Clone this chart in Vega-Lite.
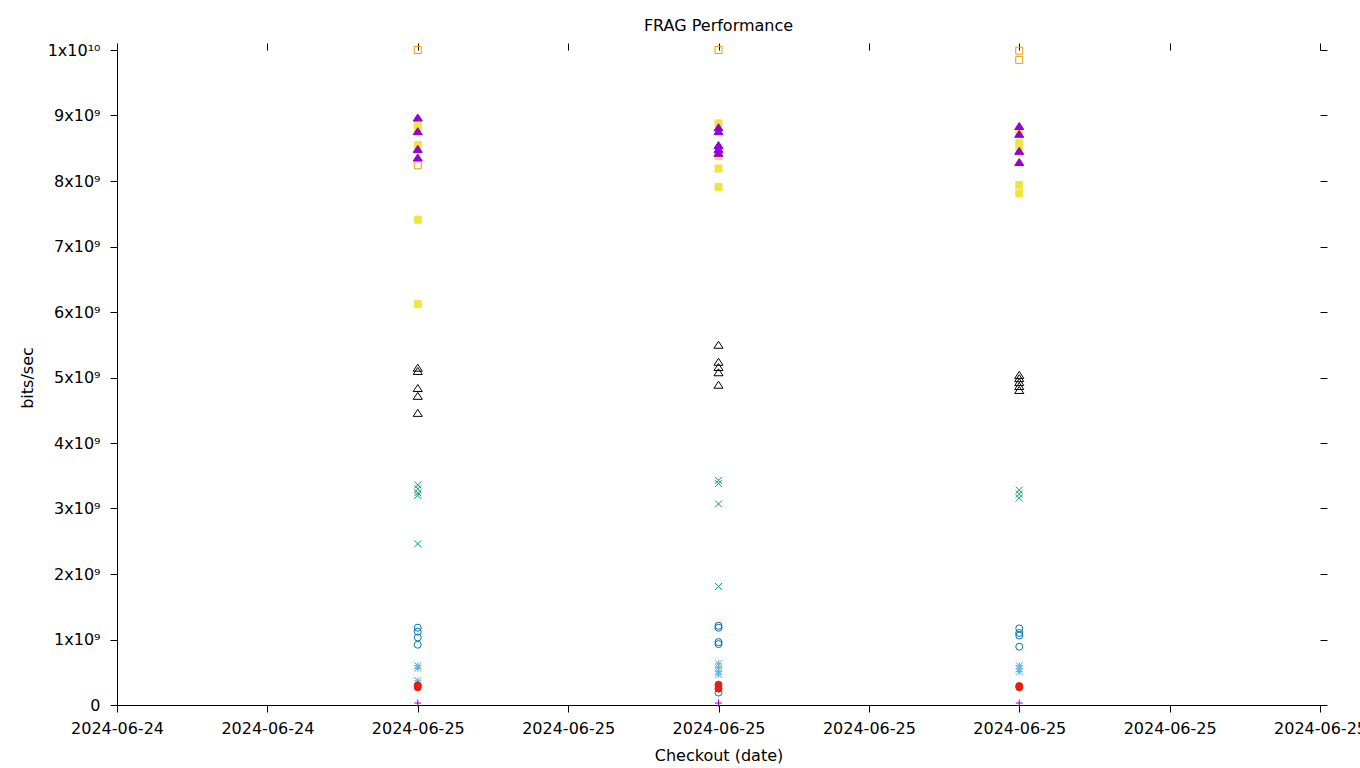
{
  "$schema": "https://vega.github.io/schema/vega-lite/v6.json",
  "autosize": {"type": "none"},
  "padding": {"left": 117, "top": 50, "right": 40, "bottom": 63},
  "width": 1203,
  "height": 655,
  "background": "white",
  "title": {"text": "FRAG Performance", "font": "DejaVu Sans", "fontSize": 16, "fontWeight": "normal", "color": "black", "anchor": "middle", "offset": 8},
  "config": {
    "view": {"stroke": null},
    "axis": {"grid": false, "domainColor": "black", "tickColor": "black", "labelColor": "black", "titleColor": "black", "labelFont": "DejaVu Sans", "titleFont": "DejaVu Sans", "labelFontSize": 16, "titleFontSize": 16, "titleFontWeight": "normal", "tickSize": 7}
  },
  "data": {"values": [
    {"series": "series 1", "checkout": "2024-06-25T00:00:00Z", "bps": 30000000},
    {"series": "series 1", "checkout": "2024-06-25T04:00:00Z", "bps": 30000000},
    {"series": "series 1", "checkout": "2024-06-25T08:00:00Z", "bps": 30000000},
    {"series": "series 2", "checkout": "2024-06-25T00:00:00Z", "bps": 3360000000},
    {"series": "series 2", "checkout": "2024-06-25T00:00:00Z", "bps": 3300000000},
    {"series": "series 2", "checkout": "2024-06-25T00:00:00Z", "bps": 3240000000},
    {"series": "series 2", "checkout": "2024-06-25T00:00:00Z", "bps": 3200000000},
    {"series": "series 2", "checkout": "2024-06-25T00:00:00Z", "bps": 2460000000},
    {"series": "series 2", "checkout": "2024-06-25T04:00:00Z", "bps": 3430000000},
    {"series": "series 2", "checkout": "2024-06-25T04:00:00Z", "bps": 3380000000},
    {"series": "series 2", "checkout": "2024-06-25T04:00:00Z", "bps": 3070000000},
    {"series": "series 2", "checkout": "2024-06-25T04:00:00Z", "bps": 1810000000},
    {"series": "series 2", "checkout": "2024-06-25T08:00:00Z", "bps": 3280000000},
    {"series": "series 2", "checkout": "2024-06-25T08:00:00Z", "bps": 3220000000},
    {"series": "series 2", "checkout": "2024-06-25T08:00:00Z", "bps": 3160000000},
    {"series": "series 3", "checkout": "2024-06-25T00:00:00Z", "bps": 600000000},
    {"series": "series 3", "checkout": "2024-06-25T00:00:00Z", "bps": 560000000},
    {"series": "series 3", "checkout": "2024-06-25T00:00:00Z", "bps": 370000000},
    {"series": "series 3", "checkout": "2024-06-25T04:00:00Z", "bps": 630000000},
    {"series": "series 3", "checkout": "2024-06-25T04:00:00Z", "bps": 570000000},
    {"series": "series 3", "checkout": "2024-06-25T04:00:00Z", "bps": 510000000},
    {"series": "series 3", "checkout": "2024-06-25T04:00:00Z", "bps": 470000000},
    {"series": "series 3", "checkout": "2024-06-25T08:00:00Z", "bps": 600000000},
    {"series": "series 3", "checkout": "2024-06-25T08:00:00Z", "bps": 550000000},
    {"series": "series 3", "checkout": "2024-06-25T08:00:00Z", "bps": 510000000},
    {"series": "series 4", "checkout": "2024-06-25T00:00:00Z", "bps": 10000000000},
    {"series": "series 4", "checkout": "2024-06-25T00:00:00Z", "bps": 8240000000},
    {"series": "series 4", "checkout": "2024-06-25T04:00:00Z", "bps": 10000000000},
    {"series": "series 4", "checkout": "2024-06-25T08:00:00Z", "bps": 9990000000},
    {"series": "series 4", "checkout": "2024-06-25T08:00:00Z", "bps": 9850000000},
    {"series": "series 5", "checkout": "2024-06-25T00:00:00Z", "bps": 8870000000},
    {"series": "series 5", "checkout": "2024-06-25T00:00:00Z", "bps": 8810000000},
    {"series": "series 5", "checkout": "2024-06-25T00:00:00Z", "bps": 8550000000},
    {"series": "series 5", "checkout": "2024-06-25T00:00:00Z", "bps": 7410000000},
    {"series": "series 5", "checkout": "2024-06-25T00:00:00Z", "bps": 6120000000},
    {"series": "series 5", "checkout": "2024-06-25T04:00:00Z", "bps": 8880000000},
    {"series": "series 5", "checkout": "2024-06-25T04:00:00Z", "bps": 8380000000},
    {"series": "series 5", "checkout": "2024-06-25T04:00:00Z", "bps": 8190000000},
    {"series": "series 5", "checkout": "2024-06-25T04:00:00Z", "bps": 7910000000},
    {"series": "series 5", "checkout": "2024-06-25T08:00:00Z", "bps": 8720000000},
    {"series": "series 5", "checkout": "2024-06-25T08:00:00Z", "bps": 8580000000},
    {"series": "series 5", "checkout": "2024-06-25T08:00:00Z", "bps": 8520000000},
    {"series": "series 5", "checkout": "2024-06-25T08:00:00Z", "bps": 7940000000},
    {"series": "series 5", "checkout": "2024-06-25T08:00:00Z", "bps": 7810000000},
    {"series": "series 6", "checkout": "2024-06-25T00:00:00Z", "bps": 1180000000},
    {"series": "series 6", "checkout": "2024-06-25T00:00:00Z", "bps": 1120000000},
    {"series": "series 6", "checkout": "2024-06-25T00:00:00Z", "bps": 1030000000},
    {"series": "series 6", "checkout": "2024-06-25T00:00:00Z", "bps": 920000000},
    {"series": "series 6", "checkout": "2024-06-25T04:00:00Z", "bps": 1210000000},
    {"series": "series 6", "checkout": "2024-06-25T04:00:00Z", "bps": 1180000000},
    {"series": "series 6", "checkout": "2024-06-25T04:00:00Z", "bps": 960000000},
    {"series": "series 6", "checkout": "2024-06-25T04:00:00Z", "bps": 930000000},
    {"series": "series 6", "checkout": "2024-06-25T04:00:00Z", "bps": 190000000},
    {"series": "series 6", "checkout": "2024-06-25T08:00:00Z", "bps": 1170000000},
    {"series": "series 6", "checkout": "2024-06-25T08:00:00Z", "bps": 1100000000},
    {"series": "series 6", "checkout": "2024-06-25T08:00:00Z", "bps": 1060000000},
    {"series": "series 6", "checkout": "2024-06-25T08:00:00Z", "bps": 890000000},
    {"series": "series 7", "checkout": "2024-06-25T00:00:00Z", "bps": 300000000},
    {"series": "series 7", "checkout": "2024-06-25T00:00:00Z", "bps": 270000000},
    {"series": "series 7", "checkout": "2024-06-25T04:00:00Z", "bps": 310000000},
    {"series": "series 7", "checkout": "2024-06-25T04:00:00Z", "bps": 250000000},
    {"series": "series 7", "checkout": "2024-06-25T08:00:00Z", "bps": 290000000},
    {"series": "series 7", "checkout": "2024-06-25T08:00:00Z", "bps": 270000000},
    {"series": "series 8", "checkout": "2024-06-25T00:00:00Z", "bps": 5150000000},
    {"series": "series 8", "checkout": "2024-06-25T00:00:00Z", "bps": 5100000000},
    {"series": "series 8", "checkout": "2024-06-25T00:00:00Z", "bps": 4840000000},
    {"series": "series 8", "checkout": "2024-06-25T00:00:00Z", "bps": 4720000000},
    {"series": "series 8", "checkout": "2024-06-25T00:00:00Z", "bps": 4460000000},
    {"series": "series 8", "checkout": "2024-06-25T04:00:00Z", "bps": 5500000000},
    {"series": "series 8", "checkout": "2024-06-25T04:00:00Z", "bps": 5240000000},
    {"series": "series 8", "checkout": "2024-06-25T04:00:00Z", "bps": 5160000000},
    {"series": "series 8", "checkout": "2024-06-25T04:00:00Z", "bps": 5080000000},
    {"series": "series 8", "checkout": "2024-06-25T04:00:00Z", "bps": 4890000000},
    {"series": "series 8", "checkout": "2024-06-25T08:00:00Z", "bps": 5040000000},
    {"series": "series 8", "checkout": "2024-06-25T08:00:00Z", "bps": 4990000000},
    {"series": "series 8", "checkout": "2024-06-25T08:00:00Z", "bps": 4930000000},
    {"series": "series 8", "checkout": "2024-06-25T08:00:00Z", "bps": 4870000000},
    {"series": "series 8", "checkout": "2024-06-25T08:00:00Z", "bps": 4810000000},
    {"series": "series 9", "checkout": "2024-06-25T00:00:00Z", "bps": 8970000000},
    {"series": "series 9", "checkout": "2024-06-25T00:00:00Z", "bps": 8760000000},
    {"series": "series 9", "checkout": "2024-06-25T00:00:00Z", "bps": 8490000000},
    {"series": "series 9", "checkout": "2024-06-25T00:00:00Z", "bps": 8360000000},
    {"series": "series 9", "checkout": "2024-06-25T04:00:00Z", "bps": 8820000000},
    {"series": "series 9", "checkout": "2024-06-25T04:00:00Z", "bps": 8760000000},
    {"series": "series 9", "checkout": "2024-06-25T04:00:00Z", "bps": 8550000000},
    {"series": "series 9", "checkout": "2024-06-25T04:00:00Z", "bps": 8490000000},
    {"series": "series 9", "checkout": "2024-06-25T04:00:00Z", "bps": 8430000000},
    {"series": "series 9", "checkout": "2024-06-25T08:00:00Z", "bps": 8840000000},
    {"series": "series 9", "checkout": "2024-06-25T08:00:00Z", "bps": 8720000000},
    {"series": "series 9", "checkout": "2024-06-25T08:00:00Z", "bps": 8460000000},
    {"series": "series 9", "checkout": "2024-06-25T08:00:00Z", "bps": 8290000000}
  ]},
  "layer": [
    {
      "mark": {"type": "point", "size": 49, "strokeWidth": 1, "opacity": 1},
      "encoding": {
        "x": {
          "field": "checkout", "type": "temporal",
          "scale": {"type": "utc", "nice": false, "domain": [
            {"year": 2024, "month": 6, "date": 24, "hours": 20, "utc": true},
            {"year": 2024, "month": 6, "date": 25, "hours": 12, "utc": true}
          ]},
          "axis": {
            "title": "Checkout (date)", "format": "%Y-%m-%d", "labelFlush": false, "labelOverlap": false,
            "labelPadding": 8, "titlePadding": 11,
            "values": [
              {"year": 2024, "month": 6, "date": 24, "hours": 20, "utc": true},
              {"year": 2024, "month": 6, "date": 24, "hours": 22, "utc": true},
              {"year": 2024, "month": 6, "date": 25, "hours": 0, "utc": true},
              {"year": 2024, "month": 6, "date": 25, "hours": 2, "utc": true},
              {"year": 2024, "month": 6, "date": 25, "hours": 4, "utc": true},
              {"year": 2024, "month": 6, "date": 25, "hours": 6, "utc": true},
              {"year": 2024, "month": 6, "date": 25, "hours": 8, "utc": true},
              {"year": 2024, "month": 6, "date": 25, "hours": 10, "utc": true},
              {"year": 2024, "month": 6, "date": 25, "hours": 12, "utc": true}
            ]
          }
        },
        "y": {
          "field": "bps", "type": "quantitative",
          "scale": {"domain": [0, 10000000000], "nice": false},
          "axis": {
            "title": "bits/sec", "labelPadding": 10, "titlePadding": 12, "labelFlush": false, "labelOverlap": false,
            "values": [0, 1000000000, 2000000000, 3000000000, 4000000000, 5000000000, 6000000000, 7000000000, 8000000000, 9000000000, 10000000000],
            "labelExpr": "datum.value == 0 ? '0' : (datum.value >= 1e10 ? '1x10¹⁰' : round(datum.value / 1e9) + 'x10⁹')"
          }
        },
        "shape": {
          "field": "series", "type": "nominal", "legend": null,
          "scale": {
            "domain": ["series 1", "series 2", "series 3", "series 4", "series 5", "series 6", "series 7", "series 8", "series 9"],
            "range": ["M-1,0L1,0M0,-1L0,1", "M-1,-1L1,1M-1,1L1,-1", "M-1,0L1,0M0,-1L0,1M-1,-1L1,1M-1,1L1,-1", "square", "square", "circle", "circle", "M0,-1L-1.3,1L1.3,1Z", "M0,-1L-1.3,1L1.3,1Z"]
          }
        },
        "stroke": {
          "field": "series", "type": "nominal", "legend": null,
          "scale": {
            "domain": ["series 1", "series 2", "series 3", "series 4", "series 5", "series 6", "series 7", "series 8", "series 9"],
            "range": ["#9400d3", "#009e73", "#56b4e9", "#e69f00", "#f0e442", "#0072b2", "#e51e10", "#000000", "#9400d3"]
          }
        },
        "fill": {
          "field": "series", "type": "nominal", "legend": null,
          "scale": {
            "domain": ["series 1", "series 2", "series 3", "series 4", "series 5", "series 6", "series 7", "series 8", "series 9"],
            "range": ["transparent", "transparent", "transparent", "transparent", "#f0e442", "transparent", "#e51e10", "transparent", "#9400d3"]
          }
        }
      }
    },
    {
      "mark": {"type": "point", "opacity": 0},
      "encoding": {
        "x": {
          "field": "checkout", "type": "temporal",
          "axis": {
            "orient": "top", "labels": false, "domain": false, "title": null,
            "values": [
              {"year": 2024, "month": 6, "date": 24, "hours": 20, "utc": true},
              {"year": 2024, "month": 6, "date": 24, "hours": 22, "utc": true},
              {"year": 2024, "month": 6, "date": 25, "hours": 0, "utc": true},
              {"year": 2024, "month": 6, "date": 25, "hours": 2, "utc": true},
              {"year": 2024, "month": 6, "date": 25, "hours": 4, "utc": true},
              {"year": 2024, "month": 6, "date": 25, "hours": 6, "utc": true},
              {"year": 2024, "month": 6, "date": 25, "hours": 8, "utc": true},
              {"year": 2024, "month": 6, "date": 25, "hours": 10, "utc": true},
              {"year": 2024, "month": 6, "date": 25, "hours": 12, "utc": true}
            ]
          }
        },
        "y": {
          "field": "bps", "type": "quantitative",
          "axis": {
            "orient": "right", "labels": false, "domain": false, "title": null,
            "values": [0, 1000000000, 2000000000, 3000000000, 4000000000, 5000000000, 6000000000, 7000000000, 8000000000, 9000000000, 10000000000]
          }
        }
      }
    }
  ],
  "resolve": {"axis": {"x": "independent", "y": "independent"}}
}
